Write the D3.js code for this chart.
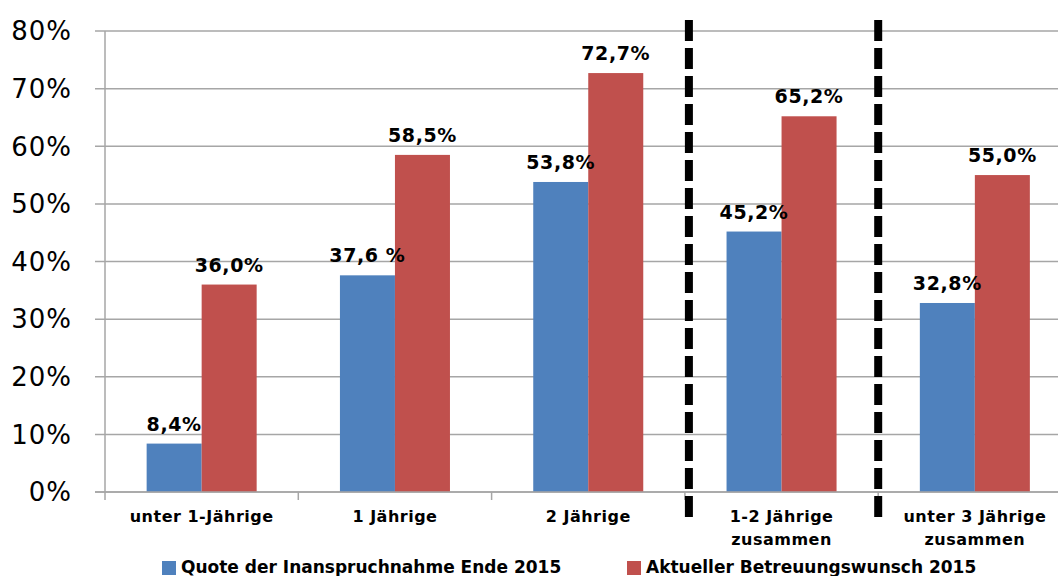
<!DOCTYPE html>
<html>
<head>
<meta charset="utf-8">
<script src="https://cdn.jsdelivr.net/npm/d3@7"></script>
<style>
  body { margin: 0; background: #fff; }
  svg { display: block; }
</style>
</head>
<body>
<svg id="chart" width="1058" height="576"></svg>
<script>
// data
var categories = [["unter 1-Jährige"], ["1 Jährige"], ["2 Jährige"], ["1-2 Jährige", "zusammen"], ["unter 3 Jährige", "zusammen"]];
var seriesNames = ["Quote der Inanspruchnahme Ende 2015", "Aktueller Betreuungswunsch 2015"];
var quote = [8.4, 37.6, 53.8, 45.2, 32.8];
var wunsch = [36.0, 58.5, 72.7, 65.2, 55.0];
var quoteLabels = ["8,4%", "37,6 %", "53,8%", "45,2%", "32,8%"];
var wunschLabels = ["36,0%", "58,5%", "72,7%", "65,2%", "55,0%"];
var yTicks = [0, 10, 20, 30, 40, 50, 60, 70, 80];
var separators = [3, 4]; // dashed lines before these category indexes

var colors = ["#4f81bd", "#c0504d"];

var svg = d3.select("#chart");
var width = 1058;

var x0 = d3.scaleBand()
    .domain(d3.range(categories.length))
    .range([105, 1071.5])
    .paddingInner(0)
    .paddingOuter(0);

var x1 = d3.scaleBand()
    .domain([0, 1])
    .range([0, x0.bandwidth()])
    .paddingInner(0)
    .paddingOuter(0.757);

var y = d3.scaleLinear()
    .domain([0, 80])
    .range([492, 31]);

// grid lines
svg.append("g")
    .selectAll("line")
    .data(yTicks)
  .enter().append("line")
    .attr("x1", 95)
    .attr("x2", width)
    .attr("y1", function(d) { return y(d) })
    .attr("y2", function(d) { return y(d) })
    .attr("stroke", "#a6a6a6")
    .attr("stroke-width", 1.5);

// y axis line
svg.append("line")
    .attr("x1", 105).attr("x2", 105)
    .attr("y1", y(80)).attr("y2", y(0))
    .attr("stroke", "#a6a6a6")
    .attr("stroke-width", 1.5);

// y tick labels
svg.append("g")
    .selectAll("text")
    .data(yTicks)
  .enter().append("text")
    .attr("x", 72)
    .attr("y", function(d) { return y(d) })
    .attr("dy", "0.36em")
    .attr("text-anchor", "end")
    .attr("font-family", "DejaVu Sans, Verdana, sans-serif")
    .attr("font-size", 26)
    .attr("letter-spacing", 1)
    .attr("fill", "#000")
    .text(function(d) { return d + "%" });

// category ticks
svg.append("g")
    .selectAll("line")
    .data(d3.range(categories.length + 1))
  .enter().append("line")
    .attr("x1", function(i) { return 105 + i * x0.step() })
    .attr("x2", function(i) { return 105 + i * x0.step() })
    .attr("y1", y(0))
    .attr("y2", y(0) + 8)
    .attr("stroke", "#a6a6a6")
    .attr("stroke-width", 1.5);

// bars
var groups = svg.append("g")
    .selectAll("g.cat")
    .data(categories.map(function(c, i) { return i }))
  .enter().append("g")
    .attr("class", "cat")
    .attr("transform", function(i) { return "translate(" + x0(i) + ",0)" });

var allValues = [quote, wunsch];
var allLabels = [quoteLabels, wunschLabels];

groups.selectAll("rect")
    .data(function(i) { return [0, 1].map(function(s) { return { s: s, v: allValues[s][i] } }) })
  .enter().append("rect")
    .attr("x", function(d) { return x1(d.s) })
    .attr("width", x1.bandwidth())
    .attr("y", function(d) { return y(d.v) })
    .attr("height", function(d) { return y(0) - y(d.v) })
    .attr("fill", function(d) { return colors[d.s] });

// value labels
groups.selectAll("text.val")
    .data(function(i) { return [0, 1].map(function(s) { return { s: s, v: allValues[s][i], t: allLabels[s][i] } }) })
  .enter().append("text")
    .attr("class", "val")
    .attr("x", function(d) { return x1(d.s) + x1.bandwidth() / 2 })
    .attr("y", function(d) { return y(d.v) - 13 })
    .attr("text-anchor", "middle")
    .attr("font-family", "DejaVu Sans, Verdana, sans-serif")
    .attr("font-weight", "bold")
    .attr("font-size", 19)
    .attr("letter-spacing", 0.6)
    .attr("fill", "#000")
    .text(function(d) { return d.t });

// x axis line
svg.append("line")
    .attr("x1", 95).attr("x2", width)
    .attr("y1", y(0)).attr("y2", y(0))
    .attr("stroke", "#a6a6a6")
    .attr("stroke-width", 1.5);

// category labels
groups.append("text")
    .attr("x", x0.bandwidth() / 2)
    .attr("y", 522)
    .attr("text-anchor", "middle")
    .attr("font-family", "DejaVu Sans, Verdana, sans-serif")
    .attr("font-weight", "bold")
    .attr("font-size", 16)
    .attr("letter-spacing", 0.5)
    .attr("fill", "#000")
    .selectAll("tspan")
    .data(function(i) { return categories[i] })
  .enter().append("tspan")
    .attr("x", x0.bandwidth() / 2)
    .attr("dy", function(d, j) { return j === 0 ? 0 : 23 })
    .text(function(d) { return d });

// dashed separators
svg.append("g")
    .selectAll("line")
    .data(separators)
  .enter().append("line")
    .attr("x1", function(i, k) { return x0(i) + (k === 0 ? 4 : 0) })
    .attr("x2", function(i, k) { return x0(i) + (k === 0 ? 4 : 0) })
    .attr("y1", 20)
    .attr("y2", 521)
    .attr("stroke", "#000")
    .attr("stroke-width", 8)
    .attr("stroke-dasharray", "21,7");

// legend
var legendX = [162, 627];
var legend = svg.append("g")
    .selectAll("g")
    .data(seriesNames)
  .enter().append("g")
    .attr("transform", function(d, i) { return "translate(" + legendX[i] + ",561)" });

legend.append("rect")
    .attr("width", 14)
    .attr("height", 14)
    .attr("fill", function(d, i) { return colors[i] });

legend.append("text")
    .attr("x", 19)
    .attr("y", 12)
    .attr("font-family", "DejaVu Sans, Verdana, sans-serif")
    .attr("font-weight", "bold")
    .attr("font-size", 17)
    .attr("fill", "#000")
    .text(function(d) { return d });
</script>
</body>
</html>
